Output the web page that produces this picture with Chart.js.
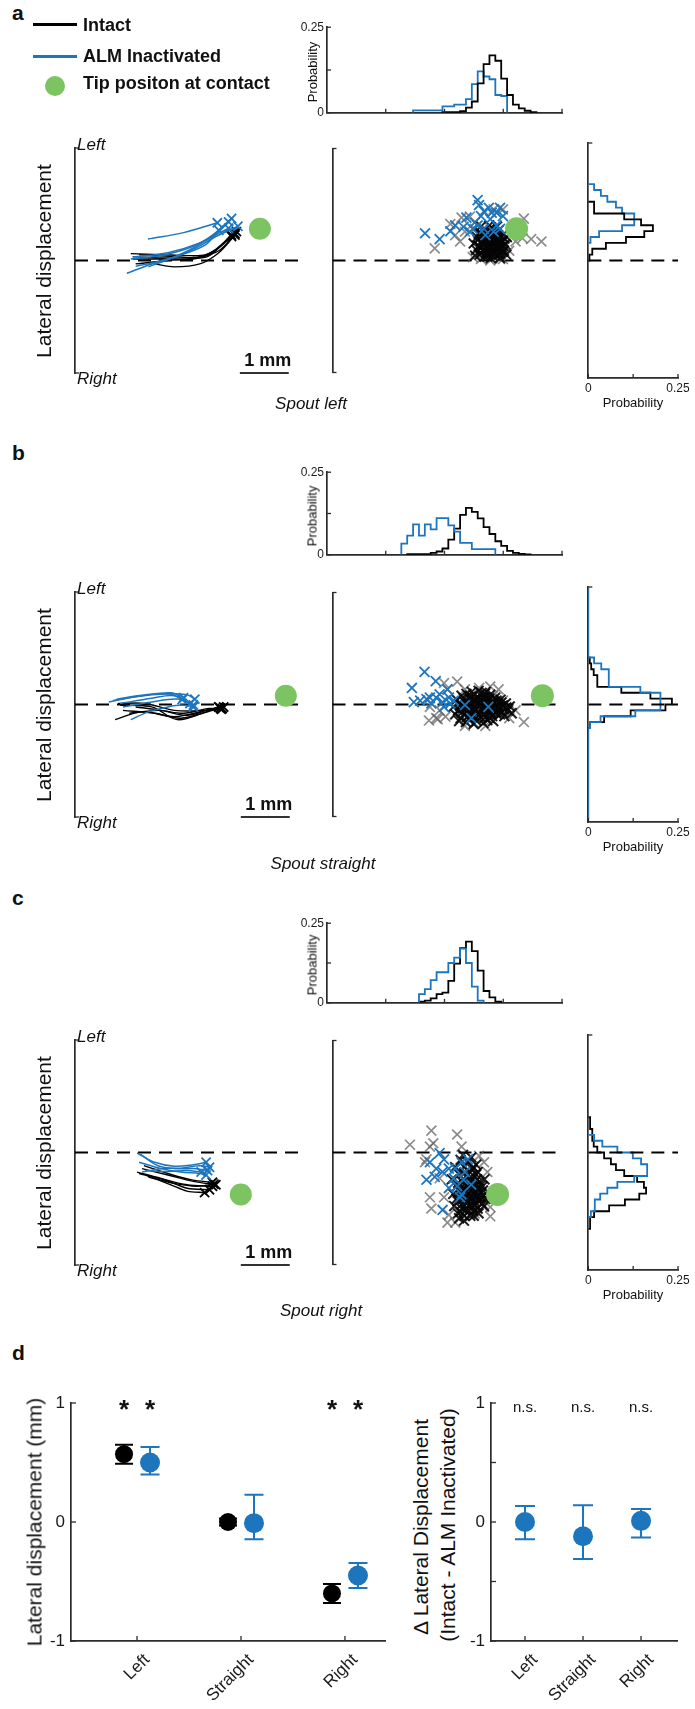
<!DOCTYPE html>
<html><head><meta charset="utf-8">
<script src="https://cdn.jsdelivr.net/npm/chart.js@4.4.1/dist/chart.umd.min.js"></script>
<style>
html,body{margin:0;padding:0;background:#fff;}
#fig{position:relative;width:695px;height:1709px;overflow:hidden;font-family:"Liberation Sans",Arial,Helvetica,sans-serif;color:#111;}
#fig canvas{position:absolute;}
.t{position:absolute;white-space:nowrap;line-height:1;}
</style></head><body><div id="fig"></div>
<script>
// ===================== DATA (mm / probability) =====================
const BIN = 0.115;          // histogram bin width (mm)
const TOP_EDGE0 = 0.075;    // first edge of the x (top) histograms (mm)
const RIGHT_EDGE0 = -2.3;   // first edge of the lateral (right) histograms (mm)
const X_MIN = 0, X_MAX = 4.6, Y_MIN = -2.3, Y_MAX = 2.3;

// ---- panel a : spout left ----
const trajA_intact = [
  [[1.14,0.14],[1.76,0.12],[2.29,0.10],[2.68,0.12],[2.94,0.26],[3.20,0.52]],
  [[1.18,0.08],[1.90,0.05],[2.55,0.08],[2.88,0.23],[3.24,0.56]],
  [[1.63,-0.07],[2.03,-0.13],[2.55,-0.07],[2.94,0.16],[3.27,0.52]],
  [[1.18,0.03],[1.76,0.03],[2.42,0.03],[2.81,0.16],[3.20,0.49]],
  [[1.31,0.12],[2.03,0.08],[2.68,0.07],[3.01,0.33],[3.30,0.59]],
  [[1.24,-0.07],[1.90,0.00],[2.48,0.05],[2.94,0.20],[3.27,0.55]]
];
const trajA_alm = [
  [[1.49,0.44],[2.22,0.57],[2.91,0.77]],
  [[1.06,-0.26],[1.57,-0.07],[2.22,0.13],[2.68,0.33],[2.94,0.62]],
  [[1.14,0.03],[1.76,0.10],[2.42,0.29],[2.81,0.52],[3.20,0.86]],
  [[1.24,-0.12],[1.90,0.03],[2.48,0.26],[2.88,0.49],[3.33,0.70]],
  [[1.50,-0.13],[2.03,0.07],[2.55,0.33],[2.94,0.59],[3.14,0.79]],
  [[1.18,0.07],[1.90,0.16],[2.55,0.36],[3.14,0.66]]
];
const scatA_intactOuter = [[2.10,0.25],[2.42,0.75],[2.65,0.88],[2.62,0.39],[2.88,0.07],[3.44,0.03],[3.93,0.86],[4.08,0.44],[4.29,0.39],[3.37,0.98],[3.50,1.05],[2.92,0.65],[3.05,0.03],[3.63,0.20],[3.76,0.39],[2.72,0.59],[2.52,0.52],[3.50,0.03],[3.24,0.00],[3.90,0.46],[3.70,0.59],[2.82,0.90],[3.31,1.05]];
const scatA_intactCore = [[2.90,0.35],[2.95,0.22],[2.97,0.48],[3.00,0.30],[3.02,0.12],[3.03,0.58],[3.06,0.40],[3.08,0.20],[3.10,0.50],[3.12,0.08],[3.13,0.32],[3.15,0.62],[3.17,0.25],[3.18,0.44],[3.20,0.15],[3.21,0.55],[3.23,0.35],[3.25,0.05],[3.26,0.68],[3.27,0.28],[3.28,0.47],[3.30,0.18],[3.31,0.38],[3.33,0.58],[3.35,0.10],[3.36,0.30],[3.38,0.45],[3.40,0.22],[3.41,0.62],[3.43,0.35],[3.45,0.14],[3.47,0.50],[3.48,0.28],[3.50,0.40],[3.52,0.20],[3.55,0.33],[3.57,0.12],[3.58,0.48],[3.05,0.70],[3.22,0.72],[2.93,0.10],[3.12,0.38],[3.28,0.10],[3.38,0.70],[3.44,0.05],[3.15,0.16],[3.00,0.55],[3.33,0.25],[3.19,0.32],[3.40,0.52],
  [2.98,0.42],[3.04,0.26],[3.07,0.52],[3.09,0.33],[3.11,0.22],[3.14,0.45],[3.16,0.35],[3.19,0.58],[3.21,0.24],[3.23,0.48],[3.24,0.14],[3.26,0.40],[3.29,0.30],[3.30,0.52],[3.32,0.44],[3.34,0.16],[3.37,0.38],[3.39,0.30],[3.41,0.12],[3.42,0.44],[3.44,0.26],[3.46,0.40],[3.49,0.18],[3.51,0.30],[3.53,0.45],[3.10,0.60],[3.25,0.62],[3.36,0.55],[3.18,0.08],[3.05,0.15]];
const scatA_alm = [[1.90,0.56],[2.20,0.44],[2.42,0.60],[2.52,0.72],[2.69,0.69],[2.98,1.24],[3.01,1.14],[3.11,1.01],[3.21,1.08],[3.44,1.08],[3.31,0.59],[3.37,0.72],[3.11,0.65],[2.92,0.78],[2.82,0.59],[2.75,0.88],[3.37,0.98],[3.50,0.91],[3.24,0.85],[3.05,0.91],[3.14,0.52],[2.98,0.72],[3.44,0.65],[2.88,0.65],[3.27,0.98]];
const tipA = [3.78, 0.65];
const topA_intact = [null,null,null,null,null,null,null,null,null,null,null,null,null,null,null,null,null,null,null,0.002,0.002,0.002,0.005,0.015,0.033,0.086,0.142,0.168,0.152,0.100,0.052,0.024,0.013,0.006,0.002,null,null,null,null];
const topA_alm = [null,null,null,null,null,null,null,null,null,null,null,null,null,null,0.007,0.007,0.007,0.007,0.007,0.019,0.019,0.024,0.024,0.040,0.084,0.121,0.106,0.098,0.052,0.049,null,null,null,null,null,null,null,null,null];
const rightA_intact = [null,null,null,null,null,null,null,null,null,null,null,null,null,null,null,null,null,null,null,null,0.003,0.011,0.049,0.105,0.156,0.180,0.147,0.100,0.016,0.016,null,null,null,null,null,null,null,null,null,null];
const rightA_alm = [null,null,null,null,null,null,null,null,null,null,null,null,null,null,null,null,null,null,null,null,null,null,null,0.006,0.030,0.094,0.128,0.128,0.094,0.077,0.053,0.035,0.016,null,null,null,null,null,null,null];

// ---- panel b : spout straight ----
const trajB_intact = [
  [[0.82,-0.31],[1.37,-0.15],[2.03,-0.25],[2.55,-0.15],[2.94,-0.05]],
  [[0.92,-0.01],[1.57,-0.05],[2.09,-0.31],[2.61,-0.18],[2.97,-0.07]],
  [[0.88,0.02],[1.44,0.02],[2.03,-0.12],[2.68,-0.12],[3.01,-0.08]],
  [[0.98,-0.12],[1.63,-0.18],[2.16,-0.28],[2.68,-0.15],[2.94,-0.05]],
  [[1.24,-0.05],[1.76,-0.12],[2.29,-0.22],[2.75,-0.10],[3.04,-0.05]],
  [[1.11,-0.18],[1.70,-0.12],[2.22,-0.18],[2.75,-0.08],[2.99,-0.10]]
];
const trajB_alm = [
  [[0.69,0.05],[1.24,0.16],[1.90,0.22],[2.29,0.20],[2.45,0.11]],
  [[0.78,0.08],[1.37,0.18],[1.96,0.24],[2.22,0.14]],
  [[0.92,0.02],[1.57,0.13],[2.03,0.18],[2.35,0.02]],
  [[1.14,-0.31],[1.50,-0.15],[1.90,-0.05],[2.16,-0.01],[2.42,-0.05]],
  [[0.98,-0.05],[1.57,0.05],[2.09,0.11],[2.42,-0.01]],
  [[0.85,0.11],[1.44,0.20],[1.96,0.21],[2.19,0.10]]
];
const scatB_intactOuter = [[1.98,-0.33],[2.16,-0.30],[2.29,0.44],[2.36,0.31],[2.72,0.31],[3.01,0.34],[3.24,0.37],[3.41,0.31],[3.63,-0.28],[3.93,-0.36],[3.14,-0.44],[2.72,-0.44],[2.00,-0.05],[2.20,-0.12],[2.56,0.47],[2.13,-0.28],[3.76,-0.12],[3.50,0.08],[2.32,-0.25],[2.91,-0.38],[3.30,0.18]];
const scatB_intactCore = [[2.48,-0.05],[2.52,-0.20],[2.55,0.10],[2.58,-0.12],[2.60,0.02],[2.63,-0.28],[2.65,0.18],[2.68,-0.08],[2.70,0.06],[2.72,-0.18],[2.75,0.22],[2.77,-0.02],[2.80,-0.30],[2.82,0.12],[2.84,-0.12],[2.86,0.02],[2.88,-0.22],[2.90,0.20],[2.92,-0.06],[2.94,0.08],[2.96,-0.34],[2.98,-0.16],[3.00,0.14],[3.02,-0.02],[3.04,-0.26],[3.06,0.24],[3.08,-0.10],[3.10,0.04],[3.12,-0.20],[3.14,0.16],[3.16,-0.04],[3.18,-0.32],[3.20,0.08],[3.22,-0.14],[3.24,0.20],[3.26,-0.06],[3.28,-0.24],[3.30,0.06],[3.32,-0.12],[3.34,0.14],[3.36,-0.02],[3.38,-0.20],[3.40,0.04],[3.42,-0.10],[3.45,0.10],[3.48,-0.16],[3.50,-0.02],[3.53,-0.24],[3.56,0.02],[3.60,-0.12],[3.64,-0.04],[3.68,-0.18],[2.74,-0.36],[2.86,0.26],[3.10,-0.38],[3.30,-0.34],[3.00,0.28],[2.90,-0.40],[3.15,0.26],[2.60,-0.34],
  [2.62,-0.02],[2.66,-0.16],[2.70,0.12],[2.74,-0.08],[2.78,0.04],[2.81,-0.22],[2.84,0.16],[2.87,-0.04],[2.91,-0.14],[2.93,0.12],[2.97,0.02],[3.01,-0.22],[3.03,0.06],[3.06,-0.14],[3.09,0.14],[3.11,-0.06],[3.14,-0.26],[3.17,0.04],[3.19,-0.10],[3.22,0.12],[3.25,-0.18],[3.27,0.00],[3.31,-0.06],[3.35,-0.16],[3.37,0.08],[3.41,-0.04],[3.44,-0.20],[3.47,0.04],[3.52,-0.10],[3.57,-0.06],[2.95,-0.28],[3.13,0.22],[2.76,-0.26],[3.23,-0.28]];
const scatB_alm = [[1.89,0.67],[2.12,0.48],[1.63,0.34],[1.67,0.05],[1.80,0.08],[1.93,0.11],[2.13,0.14],[2.26,0.05],[2.36,0.31],[2.42,0.02],[2.72,-0.01],[3.20,-0.05],[2.85,-0.28],[2.39,0.14],[2.03,0.02],[2.29,-0.05],[2.49,0.08],[2.20,0.21],[2.00,0.14]];
const tipB = [4.31, 0.18];
const topB_intact = [null,null,null,null,null,null,null,null,null,null,null,null,null,0.002,0.002,0.002,0.002,0.006,0.010,0.019,0.046,0.079,0.121,0.142,0.130,0.110,0.084,0.063,0.041,0.027,0.012,0.006,0.003,0.001,null,null,null,null,null];
const topB_alm = [null,null,null,null,null,null,null,null,null,null,null,null,0.034,0.058,0.092,0.058,0.092,0.077,0.111,0.111,0.089,0.070,0.036,0.036,0.017,0.017,0.017,0.017,null,null,null,null,null,null,null,null,null,null,null];
const rightB_intact = [null,null,null,null,null,null,null,null,null,null,null,null,null,null,null,null,0.005,0.044,0.118,0.215,0.233,0.173,0.092,0.025,0.025,0.015,0.008,0.004,null,null,null,null,null,null,null,null,null,null,null,null];
const rightB_alm = [0,0,0,0,0,0,0,0,0,0,0,0,0,0,0,0,0.005,0.034,0.131,0.201,0.201,0.201,0.145,0.057,0.057,0.057,0.036,0.016,0,0,0,0,0,0,0,0,0,0,0,0];

// ---- panel c : spout right ----
const trajC_intact = [
  [[1.27,-0.40],[1.76,-0.53],[2.29,-0.66],[2.81,-0.69]],
  [[1.37,-0.33],[1.90,-0.46],[2.42,-0.59],[2.88,-0.66]],
  [[1.44,-0.46],[1.96,-0.66],[2.29,-0.79],[2.65,-0.82]],
  [[1.31,-0.43],[1.83,-0.56],[2.29,-0.73],[2.75,-0.76]],
  [[1.50,-0.50],[2.03,-0.63],[2.48,-0.69],[2.84,-0.65]],
  [[1.41,-0.27],[1.90,-0.43],[2.39,-0.56],[2.81,-0.61]]
];
const trajC_alm = [
  [[1.27,-0.01],[1.63,-0.20],[2.03,-0.28],[2.42,-0.25],[2.68,-0.20]],
  [[1.34,-0.04],[1.70,-0.27],[2.09,-0.33],[2.48,-0.33],[2.71,-0.37]],
  [[1.37,-0.40],[1.76,-0.33],[2.16,-0.32],[2.55,-0.27],[2.75,-0.30]],
  [[1.31,-0.20],[1.76,-0.33],[2.16,-0.40],[2.55,-0.43],[2.68,-0.46]],
  [[1.44,-0.37],[1.90,-0.39],[2.29,-0.37],[2.58,-0.40]]
];
const scatC_intactOuter = [[2.03,0.45],[1.59,0.16],[2.56,0.37],[2.00,0.12],[1.90,-0.20],[2.00,-0.92],[2.03,-1.15],[2.36,-1.44],[2.52,-1.44],[3.11,-1.12],[3.24,-1.12],[3.01,-0.07],[3.18,-0.40],[2.65,0.12],[2.07,0.19],[2.20,-0.53],[1.93,-0.14],[2.39,-1.28],[2.92,-1.25],[2.29,-0.92],[3.24,-1.31],[3.11,-0.20]];
const scatC_intactCore = [[2.45,-0.55],[2.48,-0.85],[2.50,-1.10],[2.52,-0.30],[2.55,-0.70],[2.57,-1.00],[2.58,-1.25],[2.60,-0.45],[2.62,-0.80],[2.63,-0.15],[2.65,-1.15],[2.66,-0.60],[2.68,-0.95],[2.70,-0.30],[2.71,-1.30],[2.72,-0.75],[2.74,-0.50],[2.75,-1.05],[2.76,-0.88],[2.78,-0.20],[2.79,-0.65],[2.80,-1.20],[2.82,-0.40],[2.83,-0.95],[2.85,-0.78],[2.86,-1.10],[2.88,-0.55],[2.89,-0.30],[2.90,-0.85],[2.92,-1.00],[2.93,-0.68],[2.95,-0.45],[2.96,-0.90],[2.98,-1.15],[3.00,-0.75],[3.02,-0.60],[3.03,-0.95],[3.05,-0.82],[3.07,-1.05],[3.08,-0.70],[3.10,-0.88],[3.12,-0.55],[3.14,-0.95],[2.70,-1.40],[2.90,-1.30],[2.60,-1.35],[2.85,-0.10],[2.68,-0.05],[2.95,-0.25],[2.55,-0.95],[3.00,-1.25],[2.78,-1.00],[2.82,-0.60],[2.74,-0.80],
  [2.58,-0.62],[2.61,-0.92],[2.64,-0.72],[2.67,-1.05],[2.69,-0.82],[2.72,-0.58],[2.73,-1.18],[2.76,-0.68],[2.77,-0.96],[2.80,-0.85],[2.81,-1.08],[2.84,-0.50],[2.86,-0.70],[2.87,-0.92],[2.89,-1.20],[2.91,-0.62],[2.92,-0.78],[2.94,-1.08],[2.97,-0.55],[2.99,-0.85],[3.01,-1.00],[3.04,-0.68],[3.06,-0.92],[3.09,-0.78],[3.11,-1.10],[2.63,-1.22],[2.83,-1.30],[2.98,-0.40],[2.70,-0.42],[2.88,-0.35]];
const scatC_alm = [[2.00,-0.20],[1.93,-0.56],[2.10,-0.50],[2.20,-0.01],[2.29,-0.14],[2.39,-0.33],[2.52,-0.33],[2.65,-0.20],[2.72,-0.40],[2.78,-0.14],[2.26,-1.18],[2.62,-0.92],[2.56,-0.69],[2.69,-0.56],[2.85,-0.66],[2.49,-0.53],[2.26,-0.40],[2.39,-0.73],[2.65,-0.86],[2.13,-0.33]];
const tipC = [3.39, -0.86];
const topC_intact = [null,null,null,null,null,null,null,null,null,null,null,null,null,null,null,0.004,0.007,0.014,0.027,0.032,0.069,0.123,0.172,0.192,0.162,0.101,0.037,0.017,0.004,null,null,null,null,null,null,null,null,null,null];
const topC_alm = [null,null,null,null,null,null,null,null,null,null,null,null,null,null,null,0.027,0.043,0.071,0.096,0.096,0.125,0.142,0.170,0.125,0.051,0.007,null,null,null,null,null,null,null,null,null,null,null,null,null];
const rightC_intact = [null,null,null,null,null,null,null,0.005,0.005,0.016,0.058,0.102,0.142,0.161,0.155,0.136,0.100,0.077,0.063,0.044,0.025,0.015,0.011,0.011,0.005,0.005,null,null,null,null,null,null,null,null,null,null,null,null,null,null];
const rightC_alm = [null,null,null,null,null,null,null,null,null,0.007,0.018,0.018,0.033,0.053,0.081,0.128,0.164,0.164,0.147,0.124,0.081,0.039,0.016,null,null,null,null,null,null,null,null,null,null,null,null,null,null,null,null,null];

// ---- panel d ----
const dCats = ['Left', 'Straight', 'Right'];
const intactMean = [0.57, 0.00, -0.60];
const intactLo   = [0.49, -0.03, -0.68];
const intactHi   = [0.65, 0.03, -0.52];
const almMean    = [0.50, -0.01, -0.45];
const almLo      = [0.40, -0.145, -0.555];
const almHi      = [0.63, 0.23, -0.345];
const intactSig  = ['*', '', '*'];
const almSig     = ['*', '', '*'];
const deltaMean  = [0.00, -0.12, 0.01];
const deltaLo    = [-0.145, -0.31, -0.13];
const deltaHi    = [0.135, 0.14, 0.11];
const deltaSig   = ['n.s.', 'n.s.', 'n.s.'];
const dYTicks = [-1, 0, 1];
const dYMinor = [-1, -0.5, 0, 0.5, 1];
const probTicks = [0, 0.125, 0.25];

// ===================== STYLE / LAYOUT =====================
const AX = '#2b2b2b', BLUE = '#1d76bd', GREEN = '#7cc462';
const GRAY = 'rgba(95,95,95,0.72)', DARK = 'rgba(5,5,5,0.9)';
const FONT = '"Liberation Sans", Arial, Helvetica, sans-serif';
Chart.defaults.font.family = FONT;
Chart.defaults.color = '#1a1a1a';
const fig = document.getElementById('fig');

const inTicks = { id:'inTicks', afterDatasetsDraw(chart, args, o) {
  if (!o || (!o.x && !o.y)) return;
  const {ctx, chartArea:a, scales} = chart; const L = o.len || 4;
  ctx.save(); ctx.strokeStyle = AX; ctx.lineWidth = 1.3;
  (o.x||[]).forEach(v => { const p = scales.x.getPixelForValue(v); ctx.beginPath(); ctx.moveTo(p, a.bottom); ctx.lineTo(p, a.bottom - L); ctx.stroke(); });
  (o.y||[]).forEach(v => { const p = scales.y.getPixelForValue(v); ctx.beginPath(); ctx.moveTo(a.left, p); ctx.lineTo(a.left + L, p); ctx.stroke(); });
  ctx.restore();
}};
const errBars = { id:'errBars', beforeDatasetsDraw(chart, args, o) {
  const {ctx, scales:{x, y}} = chart;
  chart.data.datasets.forEach(ds => {
    if (!ds.errLo) return;
    ctx.save(); ctx.strokeStyle = ds.borderColor; ctx.lineWidth = 2;
    ds.data.forEach((pt, i) => {
      const px = x.getPixelForValue(pt.x), lo = y.getPixelForValue(ds.errLo[i]), hi = y.getPixelForValue(ds.errHi[i]), cw = ds.capW || 9;
      ctx.beginPath(); ctx.moveTo(px, lo); ctx.lineTo(px, hi);
      ctx.moveTo(px - cw, lo); ctx.lineTo(px + cw, lo);
      ctx.moveTo(px - cw, hi); ctx.lineTo(px + cw, hi); ctx.stroke();
    });
    ctx.restore();
  });
}};
const sigText = { id:'sigText', afterDatasetsDraw(chart) {
  const {ctx, scales:{x, y}} = chart;
  chart.data.datasets.forEach(ds => {
    if (!ds.sig) return;
    ctx.save(); ctx.font = ds.sigFont; ctx.fillStyle = '#111'; ctx.textAlign = 'center'; ctx.textBaseline = 'alphabetic';
    ds.data.forEach((pt, i) => { if (ds.sig[i]) ctx.fillText(ds.sig[i], x.getPixelForValue(pt.x), y.getPixelForValue(y.max) + ds.sigDy); });
    ctx.restore();
  });
}};
Chart.register(inTicks, errBars, sigText);

function P(arr) { return arr.map(p => ({x:p[0], y:p[1]})); }
function lineDs(pts, color, width, order, extra) {
  return Object.assign({data:P(pts), showLine:true, borderColor:color, backgroundColor:color, borderWidth:width, pointRadius:0, pointHoverRadius:0, tension:0.35, order:order}, extra || {});
}
function markDs(pts, color, style, r, bw, order) {
  return {data:P(pts), showLine:false, pointStyle:style, pointRadius:r, pointHoverRadius:r, pointBorderColor:color, pointBackgroundColor:color, borderColor:color, backgroundColor:color, pointBorderWidth:bw, borderWidth:bw, order:order};
}
function stairsTop(vals) {
  const pts = []; let last = null;
  vals.forEach((v, k) => { if (v === null) return; const e0 = TOP_EDGE0 + k * BIN, e1 = e0 + BIN;
    if (!pts.length) pts.push([e0, 0]); pts.push([e0, v], [e1, v]); last = e1; });
  pts.push([last, 0]); return pts;
}
function stairsRight(vals) {
  const pts = []; let last = null;
  vals.forEach((v, k) => { if (v === null) return; const e0 = RIGHT_EDGE0 + k * BIN, e1 = e0 + BIN;
    if (!pts.length) pts.push([0, e0]); pts.push([v, e0], [v, e1]); last = e1; });
  pts.push([0, last]); return pts;
}
function histDs(pts, color, order) { return lineDs(pts, color, 1.8, order, {tension:0}); }
function axis(min, max, o) {
  o = o || {};
  const a = {type:'linear', min:min, max:max, display:true, grid:{display:false, drawTicks:false},
    border:{display:!!o.border, color:AX, width:1.7},
    ticks: o.labels ? Object.assign({display:true, autoSkip:false, maxRotation:0, minRotation:0, padding:4, color:'#1a1a1a', font:{size:12}}, o.labels) : {display:false}};
  if (o.tickVals) a.afterBuildTicks = s => { s.ticks = o.tickVals.map(v => ({value:v})); };
  return a;
}
function mk(rect, pad, cfg) {
  const c = document.createElement('canvas');
  const W = rect.w + pad.l + pad.r, H = rect.h + pad.t + pad.b;
  c.width = W; c.height = H;
  c.style.left = (rect.x - pad.l) + 'px'; c.style.top = (rect.y - pad.t) + 'px';
  c.style.width = W + 'px'; c.style.height = H + 'px';
  fig.appendChild(c);
  const o = cfg.options;
  Object.assign(o, {responsive:false, maintainAspectRatio:false, animation:false, devicePixelRatio:1, events:[]});
  o.layout = {padding:{left:0, right:pad.r, top:pad.t, bottom:0}};
  o.plugins = Object.assign({legend:{display:false}, tooltip:{enabled:false}}, o.plugins || {});
  o.scales.x.position = 'bottom'; o.scales.y.position = 'left';
  o.scales.x.afterFit = s => { s.height = pad.b; };
  o.scales.y.afterFit = s => { s.width = pad.l; };
  return new Chart(c.getContext('2d'), cfg);
}
function T(s, x, base, fs, o) {
  o = o || {};
  const d = document.createElement('div'); d.className = 't'; d.textContent = s;
  d.style.fontSize = fs + 'px'; if (o.w) d.style.fontWeight = o.w; if (o.i) d.style.fontStyle = 'italic';
  d.style.left = x + 'px'; d.style.top = (base - 0.8465 * fs) + 'px';
  if (o.align === 'center') d.style.transform = 'translateX(-50%)';
  if (o.align === 'right') d.style.transform = 'translateX(-100%)';
  fig.appendChild(d);
}
function R(s, cx, cy, fs) {
  const d = document.createElement('div'); d.className = 't'; d.textContent = s;
  d.style.fontSize = fs + 'px'; d.style.left = cx + 'px'; d.style.top = cy + 'px';
  d.style.transform = 'translate(-50%,-50%) rotate(-90deg)';
  fig.appendChild(d);
}
function box(x, y, w, h, bg, rad) {
  const d = document.createElement('div');
  d.style.cssText = `position:absolute;left:${x}px;top:${y}px;width:${w}px;height:${h}px;background:${bg};border-radius:${rad||0}`;
  fig.appendChild(d);
}

// ===================== PANELS a-c =====================
const PANELS = [
  {L:'a', Lb:20, top:143, hTop:27, hH:90, tI:trajA_intact, tL:trajA_alm, sO:scatA_intactOuter, sC:scatA_intactCore, sL:scatA_alm, tip:tipA, hI:topA_intact, hL:topA_alm, rI:rightA_intact, rL:rightA_alm, name:'Spout left', nx:311, ny:409, bar:3.37, blueTop:false},
  {L:'b', Lb:460, top:587, hTop:472, hH:87, tI:trajB_intact, tL:trajB_alm, sO:scatB_intactOuter, sC:scatB_intactCore, sL:scatB_alm, tip:tipB, hI:topB_intact, hL:topB_alm, rI:rightB_intact, rL:rightB_alm, name:'Spout straight', nx:323, ny:869, bar:3.39, blueTop:true},
  {L:'c', Lb:905, top:1035, hTop:923, hH:84, tI:trajC_intact, tL:trajC_alm, sO:scatC_intactOuter, sC:scatC_intactCore, sL:scatC_alm, tip:tipC, hI:topC_intact, hL:topC_alm, rI:rightC_intact, rL:rightC_alm, name:'Spout right', nx:321, ny:1316, bar:3.39, blueTop:true}
];
const SZ = 235, PXMM = SZ / (X_MAX - X_MIN);

PANELS.forEach(p => {
  const dash = () => lineDs([[X_MIN,0],[X_MAX,0]], '#000', 2, 20, {tension:0, borderDash:[13,8]});
  // trajectories
  const tds = [dash()];
  p.tI.forEach(t => tds.push(lineDs(t, '#000', 1.4, 10)));
  tds.push(markDs(p.tI.map(t => t[t.length-1]), '#000', 'crossRot', 6.5, 1.8, 9));
  p.tL.forEach(t => tds.push(lineDs(t, BLUE, 1.5, 8)));
  tds.push(markDs(p.tL.map(t => t[t.length-1]), BLUE, 'crossRot', 6.5, 1.8, 7));
  tds.push(markDs([p.tip], GREEN, 'circle', 11, 0, 1));
  tds.push(lineDs([[p.bar, Y_MIN],[p.bar + 1, Y_MIN]], '#333', 2.2, 2, {tension:0, clip:false}));
  mk({x:70, y:p.top, w:SZ, h:SZ}, {l:6, r:6, t:6, b:6}, {type:'scatter', data:{datasets:tds},
    options:{scales:{x:axis(X_MIN, X_MAX), y:axis(Y_MIN, Y_MAX, {border:true})}, plugins:{inTicks:{y:[Y_MIN, Y_MAX], len:4}}}});

  // scatter of contact positions
  const sds = [dash(),
    markDs(p.sO, GRAY, 'crossRot', 7, 1.7, 6),
    markDs(p.sC, DARK, 'crossRot', 7, 2.0, 5),
    markDs(p.sL, BLUE, 'crossRot', 7, 1.8, 3),
    markDs([p.tip], GREEN, 'circle', 11.5, 0, 1)];
  mk({x:327, y:p.top, w:SZ, h:SZ}, {l:6, r:6, t:6, b:6}, {type:'scatter', data:{datasets:sds},
    options:{scales:{x:axis(X_MIN, X_MAX), y:axis(Y_MIN, Y_MAX, {border:true})}, plugins:{inTicks:{y:[Y_MIN, Y_MAX], len:4}}}});

  // top histogram
  mk({x:327, y:p.hTop, w:SZ, h:p.hH}, {l:34, r:6, t:10, b:6}, {type:'scatter', data:{datasets:[
      histDs(stairsTop(p.hI), '#000', 2), histDs(stairsTop(p.hL), BLUE, p.blueTop ? 1 : 3)]},
    options:{scales:{x:axis(X_MIN, X_MAX, {border:true}),
      y:axis(0, 0.25, {border:true, tickVals:[0, 0.25], labels:{padding:3, font:{size:12}, callback:v => String(v)}})},
      plugins:{inTicks:{x:[1.15, 2.3, 3.45, 4.6], y:probTicks, len:4}}}});

  // right histogram
  mk({x:588, y:p.top, w:90, h:SZ}, {l:6, r:22, t:6, b:26}, {type:'scatter', data:{datasets:[
      lineDs([[0,0],[0.25,0]], '#000', 2, 0, {tension:0, borderDash:[13,8]}),
      histDs(stairsRight(p.rI), '#000', 3), histDs(stairsRight(p.rL), BLUE, p.blueTop ? 2 : 4)]},
    options:{scales:{x:axis(0, 0.25, {border:true, tickVals:[0, 0.25], labels:{padding:3, font:{size:12}, callback:v => String(v)}}),
      y:axis(Y_MIN, Y_MAX, {border:true})},
      plugins:{inTicks:{x:probTicks, y:[Y_MAX], len:4}}}});

  // text
  T(p.L, 12, p.Lb, 21, {w:'bold'});
  T('Left', 77, p.top + 7, 17, {i:true});
  T('Right', 77, p.top + SZ + 6, 17, {i:true});
  R('Lateral displacement', 43, p.top + SZ / 2, 21);
  T('1 mm', 70 + (p.bar + 0.5) * PXMM, p.top + SZ - 12, 18, {w:'bold', align:'center'});
  R('Probability', 312, p.hTop + p.hH / 2, 13);
  T('Probability', 633, p.top + SZ + 29, 13, {align:'center'});
  T(p.name, p.nx, p.ny, 17, {i:true, align:'center'});
});

// legend (panel a)
box(33, 23, 44, 2.5, '#000');
box(33, 55, 44, 2.5, BLUE);
box(45, 76, 20, 20, GREEN, '50%');
T('Intact', 83, 31, 18, {w:'bold'});
T('ALM Inactivated', 83, 62, 18, {w:'bold'});
T('Tip positon at contact', 83, 89, 18, {w:'bold'});

// ===================== PANEL d =====================
T('d', 12, 1360, 21, {w:'bold'});
const OFF = 0.125;
const dLeftSets = [
  Object.assign(markDs(intactMean.map((v, i) => [i + 1 - OFF, v]), '#000', 'circle', 9, 0, 2),
    {errLo:intactLo, errHi:intactHi, capW:9, sig:intactSig, sigFont:'bold 26px ' + FONT, sigDy:15}),
  Object.assign(markDs(almMean.map((v, i) => [i + 1 + OFF, v]), BLUE, 'circle', 10, 0, 1),
    {errLo:almLo, errHi:almHi, capW:9.5, sig:almSig, sigFont:'bold 26px ' + FONT, sigDy:15})
];
const xCat = (min, max) => axis(min, max, {border:true, tickVals:[1, 2, 3],
  labels:{font:{size:17}, padding:9, labelOffset:10, maxRotation:45, minRotation:45, callback:v => dCats[v - 1]}});
const yD = () => axis(-1, 1, {border:true, tickVals:dYTicks, labels:{font:{size:17}, padding:6, callback:v => String(v)}});
mk({x:71, y:1403, w:314, h:238}, {l:34, r:10, t:22, b:68}, {type:'scatter', data:{datasets:dLeftSets},
  options:{scales:{x:xCat(0.365, 3.385), y:yD()}, plugins:{inTicks:{x:[1, 2, 3], y:dYTicks, len:5}}}});
const dRightSets = [
  Object.assign(markDs(deltaMean.map((v, i) => [i + 1, v]), BLUE, 'circle', 10, 0, 1),
    {errLo:deltaLo, errHi:deltaHi, capW:10, sig:deltaSig, sigFont:'15px ' + FONT, sigDy:9})
];
mk({x:491, y:1403, w:186, h:238}, {l:28, r:16, t:22, b:68}, {type:'scatter', data:{datasets:dRightSets},
  options:{scales:{x:xCat(0.414, 3.62), y:yD()}, plugins:{inTicks:{x:[1, 2, 3], y:dYMinor, len:5}}}});
R('Lateral displacement (mm)', 34, 1522, 21);
R('\u0394 Lateral Displacement', 420, 1527, 21);
R('(Intact - ALM Inactivated)', 447, 1525, 21);
</script></body></html>
